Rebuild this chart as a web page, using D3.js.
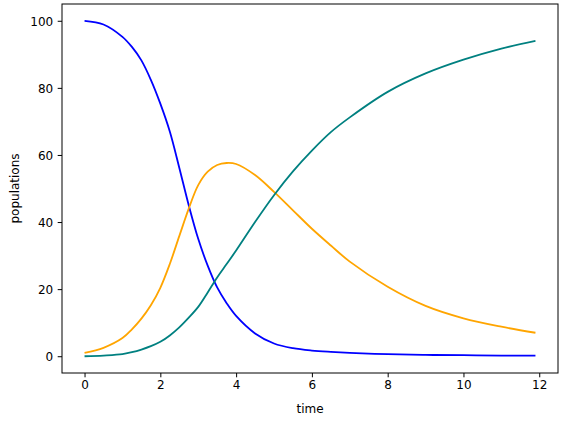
<!DOCTYPE html>
<html>
<head>
<meta charset="utf-8">
<script src="https://cdn.jsdelivr.net/npm/d3@7"></script>
<style>
  html, body { margin: 0; padding: 0; background: #fff; }
  svg { display: block; }
  text { font-family: "DejaVu Sans", sans-serif; }
</style>
</head>
<body>
<svg id="chart" width="564" height="422"></svg>
<script>
// Data
const time        = [0, 0.5, 1, 1.25, 1.5, 1.75, 2, 2.25, 2.5, 2.75, 3, 3.25, 3.5, 3.75, 4, 4.5, 5, 5.5, 6, 6.5, 7, 8, 9, 10, 11, 11.9];
const susceptible = [100, 98.9, 95.2, 92.2, 88.2, 82.4, 75.3, 67, 56.2, 45, 35, 27, 20.5, 15.8, 12, 6.8, 3.8, 2.4, 1.7, 1.3, 1.0, 0.6, 0.4, 0.3, 0.2, 0.15];
const infected    = [1.0, 2.5, 5.4, 8.0, 11.2, 15.2, 20.4, 27.5, 35.8, 44, 51, 55, 57, 57.6, 57.3, 54, 49, 43.5, 38, 33, 28.2, 20.7, 15.0, 11.3, 8.8, 7.0];
const recovered   = [0, 0.2, 0.6, 1.2, 2.0, 3.0, 4.3, 6.2, 8.6, 11.5, 14.7, 19, 23.5, 27.5, 31.5, 40, 48, 55.1, 61.3, 66.8, 71.2, 78.8, 84.3, 88.4, 91.7, 94.0];
const xTicks = [0, 2, 4, 6, 8, 10, 12];
const yTicks = [0, 20, 40, 60, 80, 100];
const seriesNames = ["S", "I", "R"];
const seriesColors = ["blue", "orange", "teal"];

const svg = d3.select("#chart");
const L = 62, R = 558, T = 4, B = 373;

const xMin = d3.min(time), xMax = d3.max(time);
const xPad = (xMax - xMin) * 0.05;
const x = d3.scaleLinear().domain([xMin - xPad, xMax + xPad]).range([L, R]);
const y = d3.scaleLinear().domain([-5, 105]).range([B, T]);

const series = [susceptible, infected, recovered];
const line = d3.line()
  .x(d => x(d[0]))
  .y(d => y(d[1]))
  .curve(d3.curveCatmullRom.alpha(0.5));

series.forEach((vals, i) => {
  svg.append("path")
    .datum(time.map((t, k) => [t, vals[k]]))
    .attr("fill", "none")
    .attr("stroke", seriesColors[i])
    .attr("stroke-width", 1.8)
    .attr("d", line);
});

// axes
const xAxis = svg.append("g")
  .attr("transform", `translate(0,${B})`)
  .call(d3.axisBottom(x).tickValues(xTicks).tickSize(4.3).tickPadding(3.2).tickSizeOuter(0));
const yAxis = svg.append("g")
  .attr("transform", `translate(${L},0)`)
  .call(d3.axisLeft(y).tickValues(yTicks).tickSize(4.3).tickPadding(4.5).tickSizeOuter(0));

[xAxis, yAxis].forEach(g => {
  g.select(".domain").remove();
  g.selectAll(".tick line").attr("stroke", "#000").attr("stroke-width", 1);
  g.selectAll(".tick text")
    .attr("fill", "#000")
    .style("font-family", "'DejaVu Sans', sans-serif")
    .style("font-size", "12px");
});
yAxis.selectAll(".tick text").attr("dy", "0.36em");

// frame
svg.append("rect")
  .attr("x", L).attr("y", T)
  .attr("width", R - L).attr("height", B - T)
  .attr("fill", "none")
  .attr("stroke", "#000")
  .attr("stroke-width", 1);

// labels
svg.append("text")
  .attr("x", (L + R) / 2)
  .attr("y", 413.3)
  .attr("text-anchor", "middle")
  .style("font-size", "12px")
  .attr("fill", "#000")
  .text("time");

svg.append("text")
  .attr("transform", `translate(18.5,${(T + B) / 2}) rotate(-90)`)
  .attr("text-anchor", "middle")
  .style("font-size", "12px")
  .attr("fill", "#000")
  .text("populations");
</script>
</body>
</html>
